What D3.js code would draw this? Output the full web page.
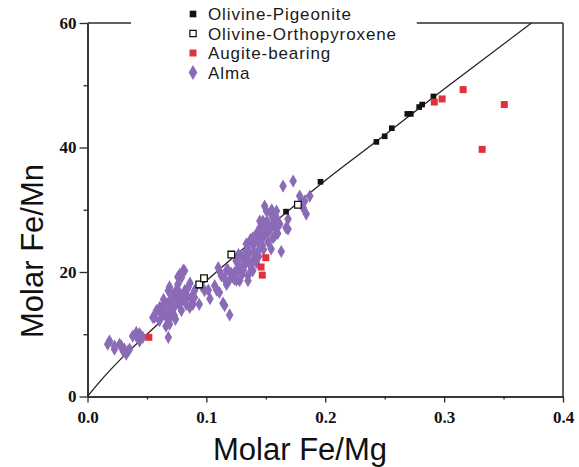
<!DOCTYPE html>
<html>
<head>
<meta charset="utf-8">
<script src="https://cdn.jsdelivr.net/npm/d3@7"></script>
<style>
  body { margin: 0; background: #fff; }
  svg { display: block; }
</style>
</head>
<body>
<div id="chart"></div>
<script>
// values
const xTicks = [0, 0.1, 0.2, 0.3, 0.4]
const xMinor = [0.05, 0.15, 0.25, 0.35]
const yTicks = [0, 20, 40, 60]
const yMinor = [10, 30, 50]

const seriesNames = ['Olivine-Pigeonite', 'Olivine-Orthopyroxene', 'Augite-bearing', 'Alma']

// trend line drawn in the figure
const trendLine = [
  [0, 0], [0.01, 2.3], [0.03, 6.4], [0.05, 10], [0.1, 18.6], [0.15, 26.8],
  [0.2, 34.7], [0.25, 42], [0.3, 49.4], [0.3735, 60]
]

const pigeonite = [
  [0.167, 29.7], [0.196, 34.5], [0.243, 40.9], [0.25, 41.8], [0.256, 43.1],
  [0.269, 45.4], [0.272, 45.4], [0.279, 46.5], [0.2815, 46.9], [0.291, 48.2]
]

const orthopyroxene = [
  [0.094, 18.0], [0.098, 19.0], [0.121, 22.8], [0.177, 30.8]
]

const augite = [
  [0.0516, 9.5], [0.147, 19.5], [0.146, 20.8], [0.150, 22.3],
  [0.2917, 47.3], [0.2983, 47.8], [0.316, 49.3], [0.332, 39.7], [0.3506, 46.9]
]

const alma = [
  [0.017, 8.4], [0.0185, 8.9], [0.0227, 7.6], [0.0227, 8.1], [0.027, 8.4], [0.0284, 8.1],
  [0.030, 7.3], [0.031, 7.6], [0.0326, 6.8], [0.034, 7.3], [0.0354, 7.6], [0.038, 9.7],
  [0.041, 9.7], [0.041, 10.3], [0.0438, 10.1], [0.0438, 8.9], [0.045, 9.7], [0.0466, 9.5],
  [0.055, 12.7], [0.0564, 12.7], [0.058, 13.8], [0.0606, 14.3], [0.0606, 12.2], [0.062, 14.3],
  [0.0634, 13.2], [0.0648, 13.2], [0.066, 14.8], [0.066, 11.3], [0.068, 17.0], [0.068, 9.5],
  [0.069, 15.4], [0.069, 13.8], [0.069, 11.6], [0.069, 17.6], [0.0705, 15.4], [0.072, 14.3],
  [0.072, 16.4], [0.073, 13.0], [0.073, 14.3], [0.0746, 15.9], [0.076, 15.4], [0.076, 18.0],
  [0.076, 19.2], [0.0775, 19.6], [0.079, 15.4], [0.079, 13.8], [0.079, 19.1], [0.0806, 20.3],
  [0.0817, 20.2], [0.0817, 17.0], [0.083, 17.0], [0.083, 14.8], [0.0845, 17.5], [0.0862, 18.2],
  [0.086, 14.3], [0.087, 15.9], [0.0887, 14.8], [0.09, 17.0], [0.09, 15.9], [0.094, 14.8],
  [0.061, 13.6], [0.064, 15.6], [0.067, 12.6], [0.071, 13.0], [0.074, 12.4], [0.075, 17.2],
  [0.077, 14.8], [0.078, 16.5], [0.081, 15.8], [0.084, 16.0],
  [0.0957, 17.8], [0.0985, 17.0], [0.1016, 17.1], [0.103, 15.7], [0.107, 17.8], [0.1087, 17.1],
  [0.111, 16.7], [0.11, 20.7], [0.1115, 20.0], [0.1126, 19.4], [0.114, 15.0], [0.1154, 14.6],
  [0.115, 19.0], [0.117, 18.0], [0.117, 20.3], [0.118, 20.4], [0.119, 18.6], [0.1196, 13.1],
  [0.121, 19.8], [0.1225, 19.1], [0.1238, 18.8], [0.124, 20.0], [0.125, 21.8], [0.1255, 18.7],
  [0.1266, 20.3], [0.127, 22.8], [0.128, 18.6], [0.128, 21.0], [0.1294, 22.6], [0.13, 19.6],
  [0.131, 20.3], [0.131, 22.3], [0.132, 21.0], [0.133, 22.0], [0.1336, 23.4], [0.1336, 24.5],
  [0.135, 23.7], [0.135, 19.4], [0.135, 18.6], [0.136, 23.0], [0.1364, 21.3], [0.137, 25.2],
  [0.138, 20.4], [0.139, 24.5], [0.139, 21.8], [0.139, 20.2], [0.139, 25.5], [0.14, 23.2],
  [0.1406, 22.1], [0.1406, 24.7], [0.142, 26.1], [0.142, 21.5], [0.143, 25.0], [0.1435, 23.4],
  [0.144, 22.5], [0.145, 27.1], [0.145, 28.2], [0.146, 25.8], [0.146, 27.0], [0.147, 24.3],
  [0.1476, 28.2], [0.1476, 25.5], [0.148, 23.6], [0.149, 26.0], [0.149, 30.6], [0.1505, 29.8],
  [0.1505, 27.1], [0.151, 28.2], [0.1518, 26.3], [0.152, 24.8], [0.153, 27.1], [0.154, 27.0],
  [0.1545, 29.3], [0.1545, 23.7], [0.155, 30.0], [0.156, 28.7], [0.156, 27.7], [0.156, 25.5],
  [0.1575, 25.8], [0.158, 27.0], [0.159, 29.8], [0.159, 28.7], [0.16, 26.2], [0.1617, 27.7],
  [0.163, 23.3], [0.1645, 33.8], [0.167, 27.1], [0.1687, 28.5], [0.1687, 26.9], [0.173, 34.6],
  [0.1785, 32.2], [0.1815, 30.3], [0.1827, 31.4], [0.184, 29.3], [0.187, 32.2]
]

const width = 579
const height = 467
const purple = '#8b6bb7'
const red = '#e0313e'
const axisColor = '#2b2b2b'

const x = d3.scaleLinear().domain([0, 0.4]).range([87.5, 563])
const y = d3.scaleLinear().domain([0, 60]).range([396.5, 23])

const svg = d3
  .select('#chart')
  .append('svg')
  .attr('width', width)
  .attr('height', height)
  .attr('viewBox', [0, 0, width, height])

svg.append('rect').attr('width', width).attr('height', height).attr('fill', '#fff')

// axes
const styleAxis = (g) => {
  g.select('.domain').attr('stroke', axisColor).attr('stroke-width', 1.5)
  g.selectAll('.tick line').attr('stroke', axisColor).attr('stroke-width', 1.3)
  g.selectAll('.tick text')
    .attr('fill', '#111')
    .style('font-family', '"Liberation Serif", "Times New Roman", serif')
    .style('font-weight', 'bold')
    .style('font-size', '17px')
}

svg.append('g')
  .attr('transform', `translate(0, ${y(0)})`)
  .call(d3.axisBottom(x).tickValues(xTicks).tickFormat(d3.format('.1f'))
    .tickSize(6).tickSizeOuter(0).tickPadding(8))
  .call(styleAxis)

svg.append('g')
  .attr('transform', `translate(0, ${y(0)})`)
  .call(d3.axisBottom(x).tickValues(xMinor).tickFormat('').tickSize(3).tickSizeOuter(0))
  .call(styleAxis)

svg.append('g')
  .attr('transform', `translate(${x(0)}, 0)`)
  .call(d3.axisLeft(y).tickValues(yTicks).tickFormat(d3.format('d'))
    .tickSize(8).tickSizeOuter(0).tickPadding(3))
  .call(styleAxis)

svg.append('g')
  .attr('transform', `translate(${x(0)}, 0)`)
  .call(d3.axisLeft(y).tickValues(yMinor).tickFormat('').tickSize(4).tickSizeOuter(0))
  .call(styleAxis)

// right and top frame (top broken by the legend)
const frame = svg.append('g').attr('stroke', axisColor).attr('stroke-width', 1.5)
frame.append('line')
  .attr('x1', x(0.4)).attr('x2', x(0.4))
  .attr('y1', y(0)).attr('y2', y(60))
frame.append('line')
  .attr('x1', x(0)).attr('x2', x(0.0366))
  .attr('y1', y(60)).attr('y2', y(60))
frame.append('line')
  .attr('x1', x(0.277)).attr('x2', x(0.4))
  .attr('y1', y(60)).attr('y2', y(60))

// trend line
svg.append('path')
  .datum(trendLine)
  .attr('fill', 'none')
  .attr('stroke', '#222')
  .attr('stroke-width', 1.3)
  .attr('d', d3.line().x((d) => x(d[0])).y((d) => y(d[1])).curve(d3.curveMonotoneX))

// markers
const diamond = d3.symbol(d3.symbolDiamond, 50)
svg.append('g')
  .selectAll('path')
  .data(alma)
  .join('path')
  .attr('transform', (d) => `translate(${x(d[0])}, ${y(d[1])})`)
  .attr('d', diamond)
  .attr('fill', purple)

svg.append('g')
  .selectAll('path')
  .data(orthopyroxene)
  .join('path')
  .attr('transform', (d) => `translate(${x(d[0])}, ${y(d[1])})`)
  .attr('d', d3.symbol(d3.symbolSquare, 44))
  .attr('fill', '#fff')
  .attr('stroke', '#111')
  .attr('stroke-width', 1.3)

svg.append('g')
  .selectAll('path')
  .data(pigeonite)
  .join('path')
  .attr('transform', (d) => `translate(${x(d[0])}, ${y(d[1])})`)
  .attr('d', d3.symbol(d3.symbolSquare, 32))
  .attr('fill', '#111')

svg.append('g')
  .selectAll('path')
  .data(augite)
  .join('path')
  .attr('transform', (d) => `translate(${x(d[0])}, ${y(d[1])})`)
  .attr('d', d3.symbol(d3.symbolSquare, 49))
  .attr('fill', red)

// legend
const legendStyles = [
  { sym: d3.symbolSquare, size: 44, fill: '#111', stroke: 'none' },
  { sym: d3.symbolSquare, size: 40, fill: '#fff', stroke: '#111' },
  { sym: d3.symbolSquare, size: 49, fill: red, stroke: 'none' },
  { sym: d3.symbolDiamond, size: 65, fill: purple, stroke: 'none' }
]
const legend = svg.append('g')
seriesNames.forEach((name, i) => {
  const row = legend.append('g').attr('transform', `translate(193, ${14 + i * 19.5})`)
  row.append('path')
    .attr('d', d3.symbol(legendStyles[i].sym, legendStyles[i].size))
    .attr('fill', legendStyles[i].fill)
    .attr('stroke', legendStyles[i].stroke)
    .attr('stroke-width', 1.2)
  row.append('text')
    .attr('x', 15)
    .attr('y', 6)
    .attr('fill', '#1a1a1a')
    .style('font-family', '"Liberation Sans", Arial, sans-serif')
    .style('font-size', '17px')
    .style('letter-spacing', '0.9px')
    .text(name)
})

// axis titles
svg.append('text')
  .attr('x', 300)
  .attr('y', 460)
  .attr('text-anchor', 'middle')
  .attr('fill', '#111')
  .style('font-family', '"Liberation Sans", Arial, sans-serif')
  .style('font-size', '31px')
  .text('Molar Fe/Mg')

svg.append('text')
  .attr('transform', 'translate(43, 251) rotate(-90)')
  .attr('text-anchor', 'middle')
  .attr('fill', '#111')
  .style('font-family', '"Liberation Sans", Arial, sans-serif')
  .style('font-size', '31px')
  .text('Molar Fe/Mn')
</script>
</body>
</html>
